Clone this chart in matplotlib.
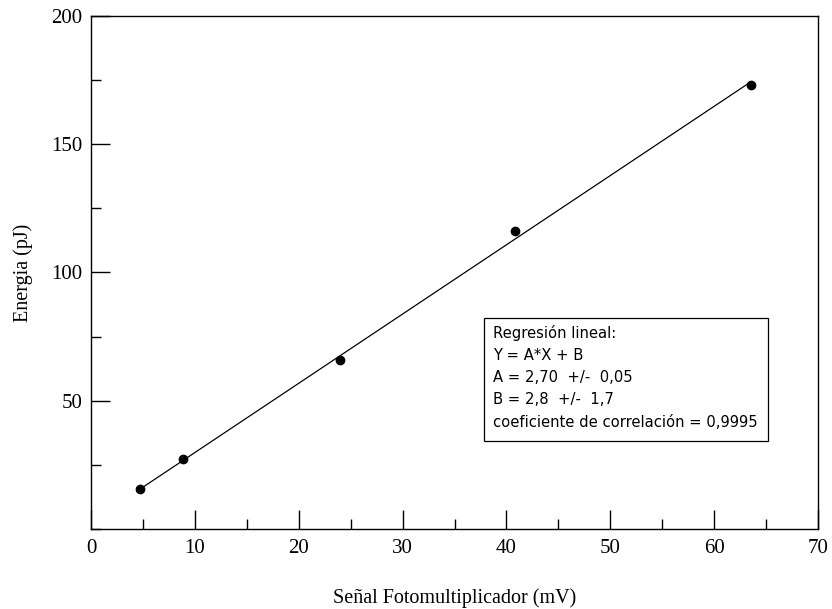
import matplotlib.pyplot as plt
from matplotlib.patches import Rectangle
from matplotlib.ticker import MultipleLocator

# measured points
senal = [4.7, 8.9, 24.0, 40.8, 63.5]
energia = [15.5, 27.2, 65.7, 116.2, 173.0]

# linear fit result
A = 2.70
B = 2.8

fit_text = ["Regresión lineal:",
            "Y = A*X + B",
            "A = 2,70  +/-  0,05",
            "B = 2,8  +/-  1,7",
            "coeficiente de correlación = 0,9995"]

fig = plt.figure(figsize=(8.32, 6.09), dpi=100)
ax = fig.add_axes([0.1094, 0.1314, 0.8738, 0.8423])

x_fit = [min(senal), max(senal)]
y_fit = [A * x + B for x in x_fit]
ax.plot(x_fit, y_fit, color='black', lw=0.9)
ax.plot(senal, energia, 'o', color='black', ms=6)

ax.set_xlim(0, 70)
ax.set_ylim(0, 200)
ax.xaxis.set_major_locator(MultipleLocator(10))
ax.xaxis.set_minor_locator(MultipleLocator(5))
ax.set_yticks([50, 100, 150, 200])
ax.yaxis.set_minor_locator(MultipleLocator(25))
ax.tick_params(which='both', direction='in', top=False, right=False,
               labelsize=15, width=1)
ax.tick_params(which='major', length=14)
ax.tick_params(axis='x', which='major', pad=7)
ax.tick_params(axis='y', which='major', pad=6)
ax.tick_params(which='minor', length=7)
for lab in ax.get_xticklabels() + ax.get_yticklabels():
    lab.set_family('Liberation Serif')
for sp in ax.spines.values():
    sp.set_linewidth(1)

ax.set_xlabel('Señal Fotomultiplicador (mV)', family='Liberation Serif',
              fontsize=14.5, labelpad=22)
ax.set_ylabel('Energia (pJ)', family='Liberation Serif', fontsize=14.5,
              labelpad=13)

# fit result box
ax.add_patch(Rectangle((0.5406, 0.1715), 0.3906, 0.2398, transform=ax.transAxes,
                       fc='white', ec='black', lw=0.9, zorder=3))
ax.text(0.553, 0.398, "\n".join(fit_text), transform=ax.transAxes,
        family='DejaVu Sans', fontsize=10.6, va='top', ha='left',
        linespacing=1.6, zorder=4)

fig.savefig('out.png', dpi=100)
